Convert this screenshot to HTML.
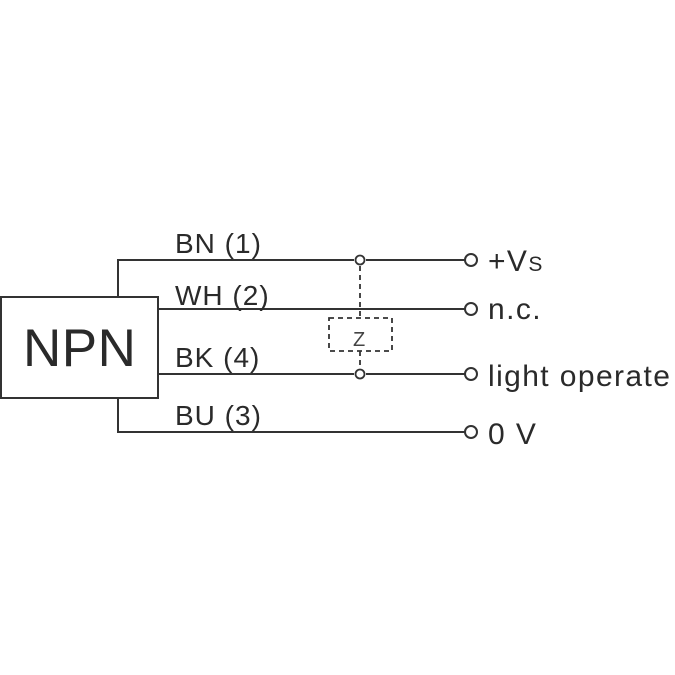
<!DOCTYPE html>
<html><head><style>body{margin:0;background:#fff}svg{display:block}</style></head><body>
<svg width="675" height="675" viewBox="0 0 675 675" xmlns="http://www.w3.org/2000/svg" font-family="Liberation Sans, sans-serif" fill="#2a2a2a">
<g stroke="#333" stroke-width="2" fill="none">
<rect x="1" y="297" width="157" height="101"/>
<polyline points="118,297 118,260 354,260"/>
<line x1="366" y1="260" x2="465" y2="260"/>
<line x1="158" y1="309" x2="465" y2="309"/>
<line x1="158" y1="374" x2="354" y2="374"/>
<line x1="366" y1="374" x2="465" y2="374"/>
<polyline points="118,398 118,432 465,432"/>
<circle cx="360" cy="260" r="4.5" stroke-width="1.8"/>
<circle cx="360" cy="374" r="4.5" stroke-width="1.8"/>
<circle cx="471" cy="260" r="6"/>
<circle cx="471" cy="309" r="6"/>
<circle cx="471" cy="374" r="6"/>
<circle cx="471" cy="432" r="6"/>
<g stroke-dasharray="5,4" stroke-width="1.8">
<line x1="360" y1="266" x2="360" y2="318"/>
<rect x="329" y="318" width="63" height="33"/>
<line x1="360" y1="351" x2="360" y2="369"/>
</g>
</g>
<text x="23" y="366" font-size="53" letter-spacing="0.5">NPN</text>
<g font-size="28" letter-spacing="1">
<text x="175" y="253">BN (1)</text>
<text x="175" y="305">WH (2)</text>
<text x="175" y="367">BK (4)</text>
<text x="175" y="425">BU (3)</text>
</g>
<text x="353" y="346" font-size="20" fill="#444">Z</text>
<g font-size="30" letter-spacing="1.4">
<text x="488" y="271">+V<tspan font-size="21">S</tspan></text>
<text x="488" y="319">n.c.</text>
<text x="488" y="386">light operate</text>
<text x="488" y="444">0 V</text>
</g>
</svg>
</body></html>
